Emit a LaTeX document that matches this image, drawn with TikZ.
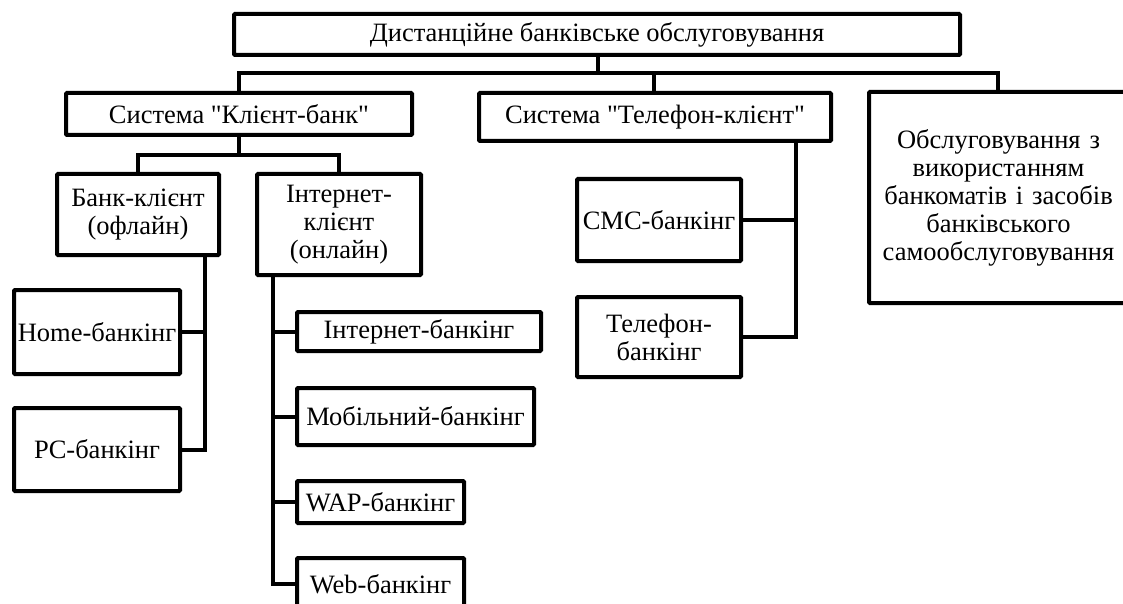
\documentclass[tikz,border=0pt]{standalone}
\usepackage{fontspec}
\setmainfont{Liberation Serif}[Ligatures=TeXOff]
\begin{document}
\begin{tikzpicture}[x=1pt,y=-1pt,
  box/.style={draw=black,line width=4pt,rectangle,inner sep=0pt,align=center,
    font=\fontsize{26.5}{28}\selectfont,rounded corners=1pt},
  conn/.style={draw=black,line width=4pt,line join=miter}]
\useasboundingbox (0,0) rectangle (1123,604);
\clip (0,0) rectangle (1123,604);
\fill[white] (0,0) rectangle (1123,604);
% boxes: center, path width/height (outer size minus line width)
\node[box,minimum width=726,minimum height=41] (top) at (597,34.5) {Дистанційне банківське обслуговування};
\node[box,minimum width=346,minimum height=42] (kb) at (239,114) {Система "Клієнт-банк"};
\node[box,minimum width=352,minimum height=48] (tk) at (655,117) {Система "Телефон-клієнт"};
\node[box,minimum width=259,minimum height=211,text width=250] (ob) at (998.5,197.5) {Обслуговування з\\використанням\\банкоматів і засобів\\банківського\\самообслуговування};
\node[box,minimum width=162,minimum height=81] (bk) at (138,214.5) {Банк-клієнт\\(офлайн)};
\node[box,minimum width=164,minimum height=101] (ik) at (339,224.5) {Інтернет-\\клієнт\\(онлайн)};
\node[box,minimum width=166,minimum height=84] (home) at (97,332) {Home-банкінг};
\node[box,minimum width=166,minimum height=83] (pc) at (97,449.5) {PC-банкінг};
\node[box,minimum width=244,minimum height=39] (ib) at (419,331.5) {Інтернет-банкінг};
\node[box,minimum width=237,minimum height=57] (mb) at (415.5,416.5) {Мобільний-банкінг};
\node[box,minimum width=167,minimum height=42] (wap) at (380.5,502) {WAP-банкінг};
\node[box,minimum width=167,minimum height=52] (web) at (380.5,584) {Web-банкінг};
\node[box,minimum width=164,minimum height=82] (sms) at (659,220) {СМС-банкінг};
\node[box,minimum width=164,minimum height=80] (tb) at (659,337) {Телефон-\\банкінг};
% bus coordinates
\coordinate (b0) at (598,73);
\coordinate (b1) at (239,155);
% top level
\draw[conn] (top.south -| b0) -- (b0);
\draw[conn] (kb.north) |- (998,73) -- (ob.north -| 998,0);
\draw[conn] (tk.north -| 654,0) -- (654,73);
% klient-bank level
\draw[conn] (kb.south) -- (b1);
\draw[conn] (bk.north) |- (ik.north |- b1) -- (ik.north);
% bank-klient children
\draw[conn] (bk.south -| 205,0) |- (pc.east);
\draw[conn] (home.east) -- (home.east -| 205,0);
% internet-klient children
\draw[conn] (ik.south -| 273,0) |- (web.west);
\draw[conn] (ib.west) -- (ib.west -| 273,0);
\draw[conn] (mb.west) -- (mb.west -| 273,0);
\draw[conn] (wap.west) -- (wap.west -| 273,0);
% telefon-klient children
\draw[conn] (tk.south -| 796,0) |- (tb.east);
\draw[conn] (sms.east) -- (sms.east -| 796,0);
\end{tikzpicture}
\end{document}
